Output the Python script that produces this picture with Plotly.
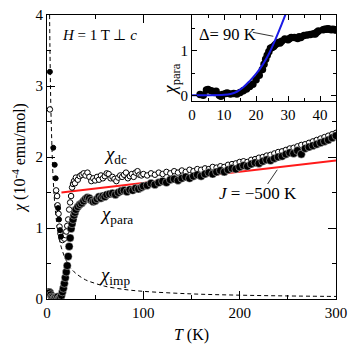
import plotly.graph_objects as go

FONT = "Liberation Serif, Times New Roman, serif"

# chi_dc (open circles), T in K, chi in 1e-4 emu/mol
dc_T = [3, 9.5, 10.5, 11, 12, 13, 14, 15, 16, 17, 18, 19, 20, 21, 22, 23, 24, 25, 26, 27,
        28, 29, 30, 32, 34, 36, 38, 40, 42, 44, 46, 48, 50, 52, 54, 56, 58, 60, 62, 64,
        66, 68, 70, 72, 74, 76, 78, 80, 82, 84, 86, 88, 90, 92, 94, 96, 98,
        100, 104, 108, 112, 116, 120, 124, 128, 132, 136, 140, 144, 148, 152, 156, 160,
        164, 168, 172, 176, 180, 184, 188, 192, 196, 200, 204, 208, 212, 216, 220, 224,
        228, 232, 236, 240, 244, 248, 252, 256, 260, 264, 268, 272, 276, 280, 284, 288,
        292, 296, 300]
dc_chi = [2.67, 1.53, 1.45, 1.32, 1.2, 1.02, 0.92, 0.86, 0.83, 0.88, 0.85, 0.9, 0.95, 1.03,
          1.12, 1.26, 1.36, 1.45, 1.57, 1.62, 1.66, 1.63, 1.71, 1.68, 1.73, 1.75, 1.77, 1.74,
          1.78, 1.72, 1.66, 1.7, 1.67, 1.72, 1.68, 1.74, 1.7, 1.73, 1.77, 1.76, 1.7, 1.72,
          1.69, 1.66, 1.71, 1.74, 1.72, 1.75, 1.78, 1.7, 1.73, 1.76, 1.72, 1.78, 1.8, 1.75,
          1.74,
          1.76, 1.74, 1.77, 1.75, 1.78, 1.76, 1.79, 1.77, 1.80, 1.78, 1.81, 1.79, 1.82, 1.80,
          1.83, 1.82, 1.84, 1.83, 1.86, 1.85, 1.87, 1.86, 1.89, 1.90, 1.91, 1.93, 1.94, 1.93,
          1.96, 1.97, 1.99, 2.00, 2.02, 2.03, 2.05, 2.07, 2.08, 2.10, 2.12, 2.13, 2.15, 2.17,
          2.18, 2.20, 2.22, 2.24, 2.26, 2.28, 2.30, 2.32, 2.34]

# chi_para (filled circles)
para_T = [2, 3, 4, 5, 6, 7, 8, 9, 10, 11, 12, 13, 14, 15, 16, 17, 18, 19, 20, 21, 22, 23,
          24, 25, 26, 27, 28, 29, 30, 32, 34, 36, 38, 40, 42, 44, 46, 48, 50, 52, 54, 56, 58,
          60, 62, 65, 68, 71, 74, 77, 80, 83, 86, 89, 92, 95, 98,
          100, 104, 108, 112, 116, 120, 124, 128, 132, 136, 140, 144, 148, 152, 156, 160,
          164, 168, 172, 176, 180, 184, 188, 192, 196, 200, 204, 208, 212, 216, 220, 224,
          228, 232, 236, 240, 244, 248, 252, 256, 260, 264, 268, 272, 276, 280, 284, 288,
          292, 296, 300]
para_chi = [0.1, 0.09, 0.06, 0.03, 0.02, 0.0, 0.01, 0.02, 0.0, 0.03, 0.0, 0.01, 0.02, 0.05,
            0.1, 0.15, 0.22, 0.3, 0.38, 0.47, 0.6, 0.74, 0.86, 0.99, 1.06, 1.12, 1.18, 1.22,
            1.26, 1.3, 1.33, 1.35, 1.38, 1.41, 1.43, 1.42, 1.39, 1.37, 1.38, 1.41, 1.44, 1.42,
            1.45, 1.44, 1.47, 1.48, 1.49, 1.47, 1.5, 1.52, 1.53, 1.51, 1.54, 1.53, 1.56, 1.55,
            1.57,
            1.59, 1.60, 1.63, 1.61, 1.64, 1.66, 1.64, 1.68, 1.69, 1.67, 1.70, 1.72, 1.70, 1.73,
            1.75, 1.73, 1.76, 1.78, 1.76, 1.79, 1.81, 1.79, 1.82, 1.84, 1.83, 1.86, 1.88, 1.87,
            1.90, 1.92, 1.91, 1.94, 1.96, 1.95, 1.98, 2.00, 2.01, 2.04, 2.06, 2.05, 2.09, 2.04,
            2.12, 2.14, 2.16, 2.18, 2.20, 2.22, 2.24, 2.27, 2.30]

# low-T raw points sitting on the impurity tail
tail_T = [3, 6.5, 8, 9, 11.5, 12.5, 13.5, 14.5]
tail_chi = [3.2, 2.13, 1.89, 1.7, 1.28, 1.12, 0.97, 0.88]

# chi_imp (dashed Curie tail)
imp_T = [2.7, 3, 3.5, 4, 5, 6, 7, 8, 10, 12, 15, 20, 25, 30, 40, 50, 60, 80, 100, 150,
         200, 250, 300]
imp_chi = [4.0, 3.6, 3.1, 2.7, 2.2, 1.8, 1.55, 1.35, 1.08, 0.9, 0.72, 0.54, 0.43, 0.36,
           0.27, 0.22, 0.18, 0.135, 0.108, 0.072, 0.054, 0.043, 0.036]

# J = -500 K fit
fit_T = [15, 300]
fit_chi = [1.5, 1.95]

# inset: chi_para at low T and gap fit
ins_T = [2.5, 3.5, 4.5, 5, 6, 7, 7.5, 8.5, 9, 9.5, 10.5, 11, 12, 13, 14, 15, 16, 17, 18,
         19, 20, 21, 22, 22.5, 23, 23.5, 24, 24.5, 25, 25.5, 26, 26.5, 27, 27.5, 28, 29,
         30, 30.5, 31, 32, 33, 33.5, 34, 35, 36, 37, 38, 38.5, 39, 39.5, 41, 41.5, 42,
         42.5, 43, 43.5, 44, 44.5, 45]
ins_chi = [0.02, 0.0, 0.12, 0.13, 0.1, 0.06, 0.09, 0.0, -0.02, 0.02, 0.04, 0.05, 0.03,
           0.04, 0.03, 0.06, 0.1, 0.14, 0.2, 0.25, 0.35, 0.45, 0.58, 0.7, 0.81, 0.9, 0.98,
           1.06, 1.08, 1.1, 1.14, 1.17, 1.19, 1.18, 1.22, 1.27, 1.25, 1.28, 1.3, 1.3, 1.28,
           1.32, 1.3, 1.35, 1.36, 1.37, 1.39, 1.38, 1.42, 1.45, 1.48, 1.49, 1.49, 1.5,
           1.49, 1.48, 1.49, 1.48, 1.47]
gap_T = [0, 5, 10, 12, 14, 16, 18, 20, 22, 24, 26, 28, 29.3]
gap_chi = [0, 0, 0.01, 0.03, 0.08, 0.18, 0.32, 0.48, 0.68, 0.93, 1.25, 1.6, 1.84]

fig = go.Figure()

fig.add_trace(go.Scatter(x=imp_T, y=imp_chi, mode="lines", line_shape="spline",
                         line=dict(color="black", width=1, dash="4px,3px")))
fig.add_trace(go.Scatter(x=fit_T, y=fit_chi, mode="lines",
                         line=dict(color="#ff1a1a", width=2)))
fig.add_trace(go.Scatter(x=dc_T, y=dc_chi, mode="markers",
                         marker=dict(size=5.5, color="white", line=dict(color="black", width=1))))
fig.add_trace(go.Scatter(x=para_T, y=para_chi, mode="markers",
                         marker=dict(size=8, color="black", line=dict(color="white", width=0.4))))
fig.add_trace(go.Scatter(x=tail_T, y=tail_chi, mode="markers",
                         marker=dict(size=5, color="black", line=dict(color="black", width=1))))

fig.add_trace(go.Scatter(x=ins_T, y=ins_chi, mode="markers", xaxis="x2", yaxis="y2",
                         marker=dict(size=7.5, color="black")))
fig.add_trace(go.Scatter(x=gap_T, y=gap_chi, mode="lines", line_shape="spline",
                         xaxis="x2", yaxis="y2", line=dict(color="#1a1ae6", width=2)))

axis_style = dict(showline=True, linecolor="black", linewidth=1.2, mirror="allticks",
                  ticks="inside", ticklen=8, tickcolor="black", showgrid=False,
                  zeroline=False, tickfont=dict(family=FONT, size=15, color="black"))

fig.update_layout(
    width=354, height=347,
    margin=dict(l=47, r=12, t=7, b=44),
    plot_bgcolor="white", paper_bgcolor="white",
    showlegend=False,
    font=dict(family=FONT, size=15, color="black"),
    xaxis=dict(range=[0, 300], dtick=100, domain=[0, 1],
               minor=dict(dtick=50, ticklen=4, ticks="inside", tickcolor="black"),
               title=dict(text="<i>T</i> (K)", standoff=8, font=dict(size=16)), **axis_style),
    yaxis=dict(range=[0, 4], dtick=1, domain=[0, 1],
               minor=dict(dtick=0.5, ticklen=4, ticks="inside", tickcolor="black"),
               title=dict(text="<i>χ</i> (10<sup>-4</sup> emu/mol)", standoff=5,
                          font=dict(size=16)), **axis_style),
    xaxis2=dict(range=[0, 45], dtick=10, anchor="y2", domain=[0.502, 1],
                minor=dict(dtick=5, ticklen=3, ticks="inside", tickcolor="black"),
                **{**axis_style, "ticklen": 5}),
    yaxis2=dict(range=[-0.13, 1.81], dtick=1, anchor="x2", domain=[0.697, 1],
                minor=dict(dtick=0.5, ticklen=3, ticks="inside", tickcolor="black"),
                **{**axis_style, "ticklen": 5}),
)

def label(x, y, text, xref="x", yref="y", size=15, angle=0):
    fig.add_annotation(x=x, y=y, xref=xref, yref=yref, text=text, showarrow=False,
                       textangle=angle, font=dict(family=FONT, size=size, color="black"))

label(54, 3.72, "<i>H</i> = 1 T ⊥ <i>c</i>")
label(71, 2.03, "<i>χ</i><sub>dc</sub>", size=19)
label(72, 1.19, "<i>χ</i><sub>para</sub>", size=19)
label(70, 0.32, "<i>χ</i><sub>imp</sub>", size=19)
label(219, 1.49, "<i>J</i> = −500 K", size=17)
label(11, 1.37, "Δ= 90 K", xref="x2", yref="y2", size=16.5)
label(0.43, 0.838, "<i>χ</i><sub>para</sub>", xref="paper", yref="paper", size=18, angle=-90)

fig.add_shape(type="line", x0=229, y0=1.62, x1=239, y1=1.82, xref="x", yref="y",
              line=dict(color="black", width=0.8))
fig.add_shape(type="line", x0=19, y0=1.42, x1=25.4, y1=1.33, xref="x2", yref="y2",
              line=dict(color="black", width=0.8))

# the page body has a default 8px margin; drop it so the figure fills the window
fig.write_html("out.html", config={"displayModeBar": False},
               post_script="document.body.style.margin = '0';")
